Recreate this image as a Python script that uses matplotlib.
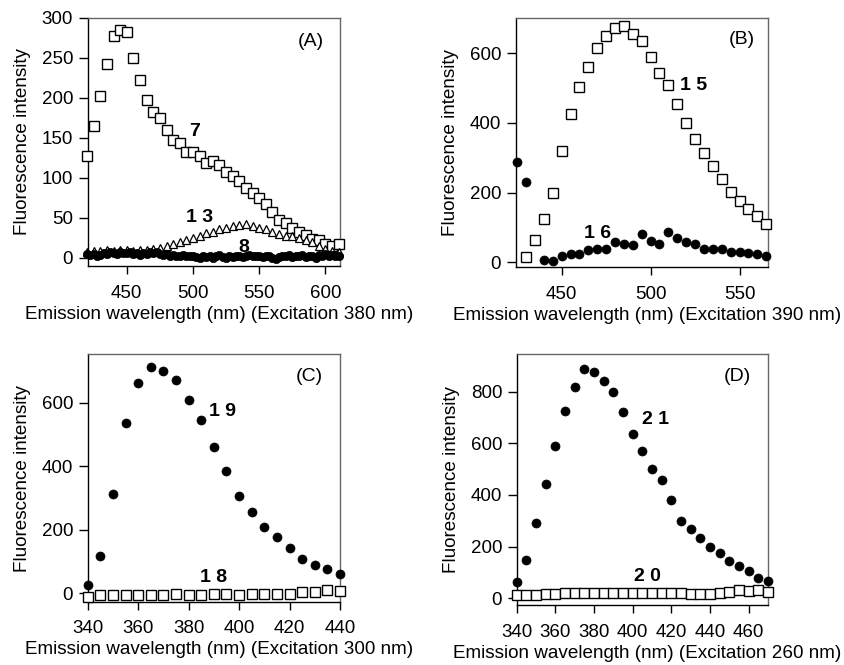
import matplotlib
matplotlib.use("Agg")
import matplotlib.pyplot as plt
import numpy as np

plt.rcParams["font.family"] = ["Liberation Sans", "DejaVu Sans"]

# Panel A (excitation 380 nm)
A_WL = np.arange(420, 611, 5)
A_COMPOUND_7 = [127, 165, 203, 243, 278, 285, 283, 250, 223, 198, 183, 175, 160,
                148, 144, 132, 132, 127, 119, 121, 116, 108, 103, 96, 88, 81, 75,
                67, 58, 48, 44, 37, 32, 29, 24, 22, 17, 15, 17]
A_COMPOUND_13 = [8, 9, 9, 10, 9, 10, 10, 9, 10, 10, 11, 12, 15, 18, 20, 23, 25,
                 28, 31, 33, 36, 38, 40, 41, 42, 40, 38, 36, 33, 30, 28, 27, 25,
                 23, 20, 15, 11, 9, 8]
A_WL_FINE = np.arange(420, 610.1, 2.5)
A_COMPOUND_8 = [5, 4, 5, 3, 4, 6, 5, 7, 6, 5, 7, 6, 6, 7, 5, 6, 4, 6, 5, 7, 6, 8,
                5, 4, 5, 3, 4, 2, 3, 4, 2, 3, 2, 1, 0, 2, 1, 3, 0, 2, 4, 1, 0, 2,
                1, 3, 2, 1, 3, 4, 2, 3, 2, 1, 3, 2, 0, -1, 1, 3, 2, 4, 1, 3, 2, 4,
                1, 3, 2, 0, 4, 2, 5, 3, 4, 2, 3]

# Panel B (excitation 390 nm)
B_WL_15 = np.arange(430, 566, 5)
B_COMPOUND_15 = [14, 64, 125, 200, 320, 425, 503, 560, 615, 651, 673, 680, 657,
                 635, 589, 545, 508, 454, 401, 354, 315, 277, 240, 202, 176, 154,
                 132, 111]
B_WL_16 = [425, 430, 440, 445, 450, 455, 460, 465, 470, 475, 480, 485, 490, 495,
           500, 505, 510, 515, 520, 525, 530, 535, 540, 545, 550, 555, 560, 565]
B_COMPOUND_16 = [287, 229, 7, 3, 19, 22, 24, 36, 38, 38, 58, 51, 48, 82, 61, 52,
                 88, 69, 58, 53, 37, 38, 38, 28, 28, 27, 22, 19]

# Panel C (excitation 300 nm)
C_WL = np.arange(340, 441, 5)
C_COMPOUND_19 = [26, 118, 313, 537, 663, 711, 701, 672, 607, 544, 462, 385, 306,
                 257, 210, 178, 142, 107, 88, 76, 61]
C_COMPOUND_18 = [-11, -6, -5, -4, -5, -6, -6, -2, -4, -5, -3, -3, -4, -2, -3, -2,
                 -2, 4, 4, 10, 8]

# Panel D (excitation 260 nm)
D_WL = np.arange(340, 471, 5)
D_COMPOUND_21 = [62, 148, 290, 443, 590, 723, 819, 886, 874, 841, 797, 719, 635,
                 568, 499, 458, 381, 301, 268, 232, 200, 174, 146, 125, 106, 77, 65]
D_COMPOUND_20 = [12, 11, 14, 17, 18, 22, 20, 22, 22, 21, 21, 21, 22, 21, 20, 22,
                 22, 19, 18, 18, 18, 22, 25, 31, 30, 33, 26]

XLABEL = "Emission wavelength (nm) (Excitation {} nm)"
YLABEL = "Fluorescence intensity"
LABEL_SIZE = 13.6
TICK_SIZE = 13.5


def style_axis(ax, xlabel):
    for side in ("top", "right"):
        ax.spines[side].set_color("#666666")
    for side in ("left", "bottom"):
        ax.spines[side].set_color("black")
    for spine in ax.spines.values():
        spine.set_linewidth(1.0)
    ax.tick_params(axis="x", direction="out", length=6, width=1,
                   labelsize=TICK_SIZE, pad=7.5)
    ax.tick_params(axis="y", direction="out", length=6.5, width=1,
                   labelsize=TICK_SIZE, pad=4)
    ax.set_ylabel(YLABEL, fontsize=LABEL_SIZE, labelpad=8)
    ax.set_xlabel(xlabel, fontsize=LABEL_SIZE)
    ax.xaxis.set_label_coords(0.52, -0.16)


def squares(ax, x, y, size=6.5):
    ax.plot(x, y, "s", ms=size, mfc="white", mec="black", mew=1.0,
            clip_on=False, zorder=3)


def dots(ax, x, y, size=6.5):
    ax.plot(x, y, "o", ms=size, mfc="black", mec="black", mew=0.5,
            clip_on=False, zorder=4)


def tag(ax, x, y, text, bold=True):
    ax.text(x, y, text, fontsize=14, ha="center", va="center",
            fontweight="bold" if bold else "normal")


fig = plt.figure(figsize=(8.45, 6.65), dpi=100)
ax_a = fig.add_axes([0.1038, 0.600, 0.2986, 0.373])
ax_b = fig.add_axes([0.6103, 0.5985, 0.2986, 0.3745])
ax_c = fig.add_axes([0.1038, 0.0952, 0.2986, 0.372])
ax_d = fig.add_axes([0.6115, 0.0902, 0.2977, 0.377])

# (A)
squares(ax_a, A_WL, A_COMPOUND_7)
ax_a.plot(A_WL, A_COMPOUND_13, "^", ms=6, mfc="white", mec="black", mew=0.9,
          clip_on=False, zorder=3)
dots(ax_a, A_WL_FINE, A_COMPOUND_8, size=6)
ax_a.set_xlim(420.5, 611)
ax_a.set_ylim(-10, 300)
ax_a.set_xticks([450, 500, 550, 600])
ax_a.set_yticks([0, 50, 100, 150, 200, 250, 300])
tag(ax_a, 501, 158, "7")
tag(ax_a, 505, 50, "1 3")
tag(ax_a, 538, 13, "8")
tag(ax_a, 589, 271, "(A)", bold=False)
style_axis(ax_a, XLABEL.format(380))

# (B)
squares(ax_b, B_WL_15, B_COMPOUND_15)
dots(ax_b, B_WL_16, B_COMPOUND_16)
ax_b.set_xlim(424.2, 566)
ax_b.set_ylim(-14, 702)
ax_b.set_xticks([450, 500, 550])
ax_b.set_yticks([0, 200, 400, 600])
tag(ax_b, 524, 507, "1 5")
tag(ax_b, 470, 82, "1 6")
tag(ax_b, 551, 640, "(B)", bold=False)
style_axis(ax_b, XLABEL.format(390))

# (C)
dots(ax_c, C_WL, C_COMPOUND_19)
squares(ax_c, C_WL, C_COMPOUND_18)
ax_c.set_xlim(340, 440)
ax_c.set_ylim(-26, 752)
ax_c.set_xticks([340, 360, 380, 400, 420, 440])
ax_c.set_yticks([0, 200, 400, 600])
tag(ax_c, 393.5, 572, "1 9")
tag(ax_c, 390, 50, "1 8")
tag(ax_c, 427.7, 682, "(C)", bold=False)
style_axis(ax_c, XLABEL.format(300))

# (D)
dots(ax_d, D_WL, D_COMPOUND_21)
squares(ax_d, D_WL, D_COMPOUND_20)
ax_d.set_xlim(340, 470.2)
ax_d.set_ylim(-26, 944)
ax_d.set_xticks([340, 360, 380, 400, 420, 440, 460])
ax_d.set_yticks([0, 200, 400, 600, 800])
tag(ax_d, 411.7, 693, "2 1")
tag(ax_d, 407.4, 84, "2 0")
tag(ax_d, 454, 858, "(D)", bold=False)
style_axis(ax_d, XLABEL.format(260))

fig.savefig("out.png", dpi=100)
